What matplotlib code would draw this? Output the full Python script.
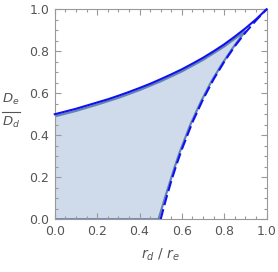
import matplotlib.pyplot as plt
from matplotlib.ticker import MultipleLocator

# values
x_upper = [0.0, 0.05, 0.1, 0.15, 0.2, 0.25, 0.3, 0.35, 0.4, 0.45, 0.5,
           0.55, 0.6, 0.65, 0.7, 0.75, 0.8, 0.85, 0.9, 0.95, 1.0]
y_upper = [0.50, 0.513, 0.526, 0.541, 0.556, 0.571, 0.588, 0.606, 0.625, 0.645, 0.667,
           0.69, 0.714, 0.741, 0.769, 0.80, 0.833, 0.87, 0.909, 0.952, 1.0]

x_lower = [0.5, 0.525, 0.55, 0.575, 0.6, 0.65, 0.7, 0.75, 0.8, 0.85, 0.9, 0.95, 1.0]
y_lower = [0.0, 0.095, 0.182, 0.261, 0.333, 0.462, 0.571, 0.667, 0.75, 0.824, 0.889, 0.947, 1.0]

# shaded region (slightly inside the two curves, closes near 0.9)
shade_top_x = [0.0, 0.1, 0.2, 0.3, 0.4, 0.5, 0.6, 0.7, 0.8, 0.9]
shade_top_y = [0.49, 0.516, 0.546, 0.578, 0.615, 0.657, 0.704, 0.759, 0.823, 0.897]
shade_bot_x = [0.9, 0.84, 0.79, 0.74, 0.69, 0.64, 0.59, 0.565, 0.54, 0.515, 0.49]
shade_bot_y = [0.897, 0.815, 0.74, 0.657, 0.56, 0.45, 0.32, 0.245, 0.165, 0.085, 0.0]

ticks = [0.0, 0.2, 0.4, 0.6, 0.8, 1.0]
tick_labels = ['0.0', '0.2', '0.4', '0.6', '0.8', '1.0']

plt.rcParams['mathtext.fontset'] = 'dejavusans'

fig = plt.figure(figsize=(2.78, 2.72), dpi=100)
ax = fig.add_axes([0.197, 0.194, 0.762, 0.772])

poly_x = shade_top_x + shade_bot_x + [0.0]
poly_y = shade_top_y + shade_bot_y + [0.0]
ax.fill(poly_x, poly_y, facecolor='#cfdaea', edgecolor='#6283b4', linewidth=1.6, zorder=1)

ax.plot(x_upper, y_upper, color='#1010f0', linewidth=1.5, zorder=3, clip_on=False)
ax.plot(x_lower, y_lower, color='#1010f0', linewidth=1.5, linestyle=(0, (5, 2)), zorder=3)

ax.set_xlim(0, 1)
ax.set_ylim(0, 1)
ax.set_xticks(ticks)
ax.set_xticklabels(tick_labels)
ax.set_yticks(ticks)
ax.set_yticklabels(tick_labels)
ax.xaxis.set_minor_locator(MultipleLocator(0.05))
ax.yaxis.set_minor_locator(MultipleLocator(0.05))
ax.tick_params(which='both', direction='in', top=True, right=True, color='#999999',
               labelsize=9, labelcolor='#555555', width=0.8)
ax.tick_params(which='major', length=4, pad=4)
ax.tick_params(which='minor', length=2)
for s in ax.spines.values():
    s.set_color('#999999')
    s.set_linewidth(0.8)

# axis labels
ax.set_xlabel(r'$r_d\ /\ r_e$', fontsize=10, color='#555555', labelpad=6)
fig.text(0.038, 0.636, r'$D_e$', fontsize=9.5, color='#555555', ha='center', va='center')
fig.text(0.038, 0.548, r'$D_d$', fontsize=9.5, color='#555555', ha='center', va='center')
fig.add_artist(plt.Line2D([0.007, 0.073], [0.589, 0.589], color='#555555', linewidth=0.8))

fig.savefig('out.png', dpi=100)
